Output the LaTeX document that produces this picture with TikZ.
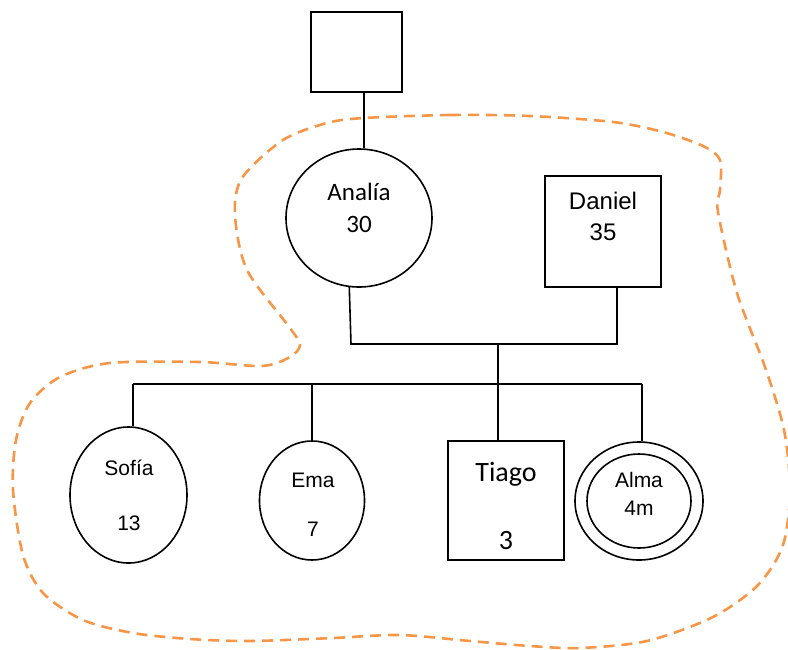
\documentclass[tikz,border=0pt]{standalone}
\usepackage{fontspec}
\setmainfont{Liberation Sans}
\newfontfamily\calibri{Carlito}
\usetikzlibrary{shapes.geometric}
\definecolor{naranja}{HTML}{F79646}
\newcommand{\fs}[1]{\fontsize{#1}{#1}\selectfont}

\begin{document}
\begin{tikzpicture}[x=1pt,y=-1pt,line width=1.6pt,
		caja/.style={draw,rectangle,inner sep=0pt},
		ovalo/.style={draw,ellipse,inner sep=0pt},
		txt/.style={anchor=base,inner sep=0pt}]
	\useasboundingbox (0,0) rectangle (788,649);
	% contorno del hogar
	\draw[naranja,line width=2.6pt,dash pattern=on 11pt off 7pt] plot[smooth cycle] coordinates {
		(364,118) (450,115) (530,116) (613,122) (663,132) (703,146) (720,160) (720,190)
		(718,212) (737,293) (765,367) (784,430) (790,490) (783,545) (758,585) (713,617)
		(647,641) (580,648) (530,646) (470,641) (400,635) (333,638) (250,641) (190,639)
		(133,633) (83,620) (43,593) (23,555) (13,490) (16,440) (30,403) (60,377)
		(110,363) (200,362) (262,366) (290,357) (300,345) (290,328) (247,270) (235,215)
		(242,178) (283,140) (327,123)};
	% personas
	\node[caja,minimum width=91pt,minimum height=80pt] (abuelo) at (356.5,52) {};
	\node[ovalo,minimum width=146pt,minimum height=138pt] (analia) at (359,218) {};
	\node[caja,minimum width=116pt,minimum height=111pt] (daniel) at (603,231.5) {};
	\node[ovalo,minimum width=117pt,minimum height=136pt] (sofia) at (128.5,495) {};
	\node[ovalo,minimum width=105pt,minimum height=119pt] (ema) at (312,500.5) {};
	\node[caja,minimum width=116pt,minimum height=119pt] (tiago) at (506,500.5) {};
	\node[ovalo,minimum width=128pt,minimum height=118pt] (alma) at (639,501) {};
	\node[ovalo,minimum width=104pt,minimum height=94pt] (almai) at (639,501) {};
	% nombres y edades
	\node[txt] (analiaN) at (359,200) {\calibri\fs{25}Analía};
	\node[txt] (analiaE) at (359,232) {\calibri\fs{25}30};
	\node[txt] (danielN) at (603,209) {\fs{24}Daniel};
	\node[txt] (danielE) at (603,240) {\fs{24}35};
	\node[txt] (sofiaN) at (129,475) {\fs{21}Sofía};
	\node[txt] (sofiaE) at (129,530) {\fs{21}13};
	\node[txt] (emaN) at (313,487) {\fs{21}Ema};
	\node[txt] (emaE) at (313,536) {\fs{21}7};
	\node[txt] (tiagoN) at (506,481) {\calibri\fs{28}Tiago};
	\node[txt] (tiagoE) at (506,549) {\calibri\fs{28}3};
	\node[txt] (almaN) at (639,487) {\fs{21}Alma};
	\node[txt] (almaE) at (639,515) {\fs{21}4m};
	% lineas
	\coordinate (pl) at (351,344);
	\coordinate (pr) at (617,344);
	\coordinate (pm) at (498,344);
	\coordinate (hl) at (133,384);
	\coordinate (hr) at (642,384);
	\draw ([xshift=7.5pt]abuelo.south) -- ([xshift=7.5pt]abuelo.south |- analia.north);
	\draw (analia.262) -- (pl) -- (pr) -- (pr |- daniel.south);
	\draw (pm) -- (pm |- hl);
	\draw (hl) -- (hr);
	\draw (hl) -- (hl |- sofia.north);
	\draw (ema.north |- hl) -- (ema.north);
	\draw (pm |- hl) -- (pm |- tiago.north);
	\draw (hr) -- (hr |- alma.north);
\end{tikzpicture}
\end{document}
